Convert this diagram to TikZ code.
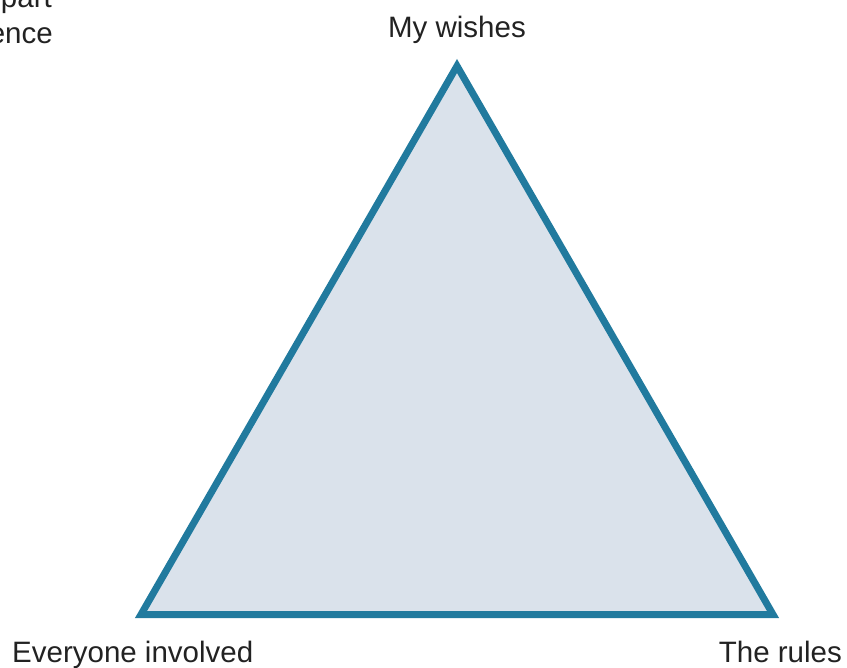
\documentclass[tikz,border=0pt]{standalone}
\usepackage{fontspec}
\setmainfont{Liberation Sans}
\definecolor{edgeblue}{HTML}{217A9E}
\definecolor{fillblue}{HTML}{DAE2EB}
\definecolor{txt}{HTML}{222222}
\begin{document}
\begin{tikzpicture}[x=1pt,y=-1pt,
  lbl/.style={inner sep=0pt,text=txt,font=\fontsize{29.5}{34}\selectfont},
  tri/.style={draw=edgeblue,fill=fillblue,line width=7pt,line join=miter}]
\useasboundingbox (0,0) rectangle (847,668);
\coordinate (top) at (457,66);
\coordinate (bl) at (141,614.5);
\coordinate (br) at (773,614.5);
\filldraw[tri] (top) -- (br) -- (bl) -- cycle;
\node[lbl,anchor=base] (wish) at (457,38) {My wishes};
\node[lbl,anchor=base west] (every) at (12,662) {Everyone involved};
\node[lbl,anchor=base east] (rules) at (842,662) {The rules};
\node[lbl,anchor=base east] (part) at (52,8) {part};
\node[lbl,anchor=base east] (ence) at (53,44) {ence};
\end{tikzpicture}
\end{document}
